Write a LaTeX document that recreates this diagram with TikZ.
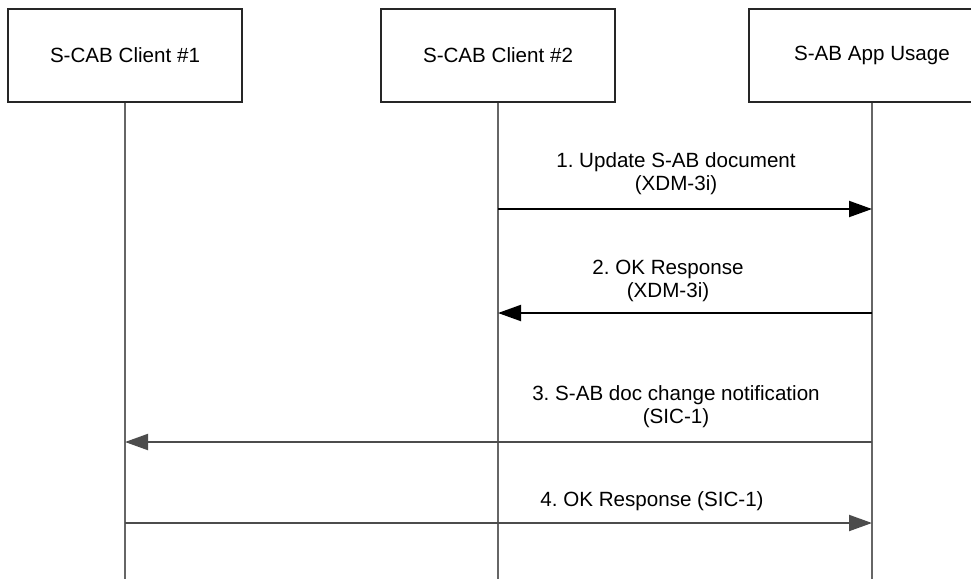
\documentclass[tikz,border=0pt]{standalone}
\usepackage{fontspec}
\setmainfont{Liberation Sans}
\frenchspacing
\usetikzlibrary{arrows.meta}
\tikzset{>={Triangle[length=23pt,width=16pt]},
  entity/.style={draw=black!85, line width=1.2pt, minimum width=234pt, minimum height=93pt, font=\fontsize{20.6}{24}\selectfont},
  lifeline/.style={draw=black!60, line width=1.5pt},
  msg/.style={->, line width=2pt},
  msglabel/.style={align=center, font=\fontsize{20.6}{23}\selectfont}}

\begin{document}
\begin{tikzpicture}[x=1pt,y=-1pt]
\useasboundingbox (0,0) rectangle (971,579);
\node[entity] (c1) at (125,55.5) {S-CAB Client \#1};
\node[entity] (c2) at (498,55.5) {S-CAB Client \#2};
\node[entity, minimum width=246pt] (c3) at (872,55.5) {S-AB App Usage};
\coordinate (e1) at (125,579);
\coordinate (e2) at (498,579);
\coordinate (e3) at (872,579);
\draw[lifeline] (c1) -- (e1);
\draw[lifeline] (c2) -- (e2);
\draw[lifeline] (c3) -- (e3);
\draw[msg] (c2 |- 0,209) -- (c3 |- 0,209);
\node[msglabel] (l1) at (676,174) {1. Update S-AB document\\(XDM-3i)};
\draw[msg] (c3 |- 0,313) -- (c2 |- 0,313);
\node[msglabel] (l2) at (668,281) {2. OK Response\\(XDM-3i)};
\draw[msg, black!70] (c3 |- 0,442) -- (c1 |- 0,442);
\node[msglabel] (l3) at (676,407) {3. S-AB doc change notification\\(SIC-1)};
\draw[msg, black!70] (c1 |- 0,523) -- (c3 |- 0,523);
\node[msglabel] (l4) at (652,501) {4. OK Response (SIC-1)};
\end{tikzpicture}
\end{document}
